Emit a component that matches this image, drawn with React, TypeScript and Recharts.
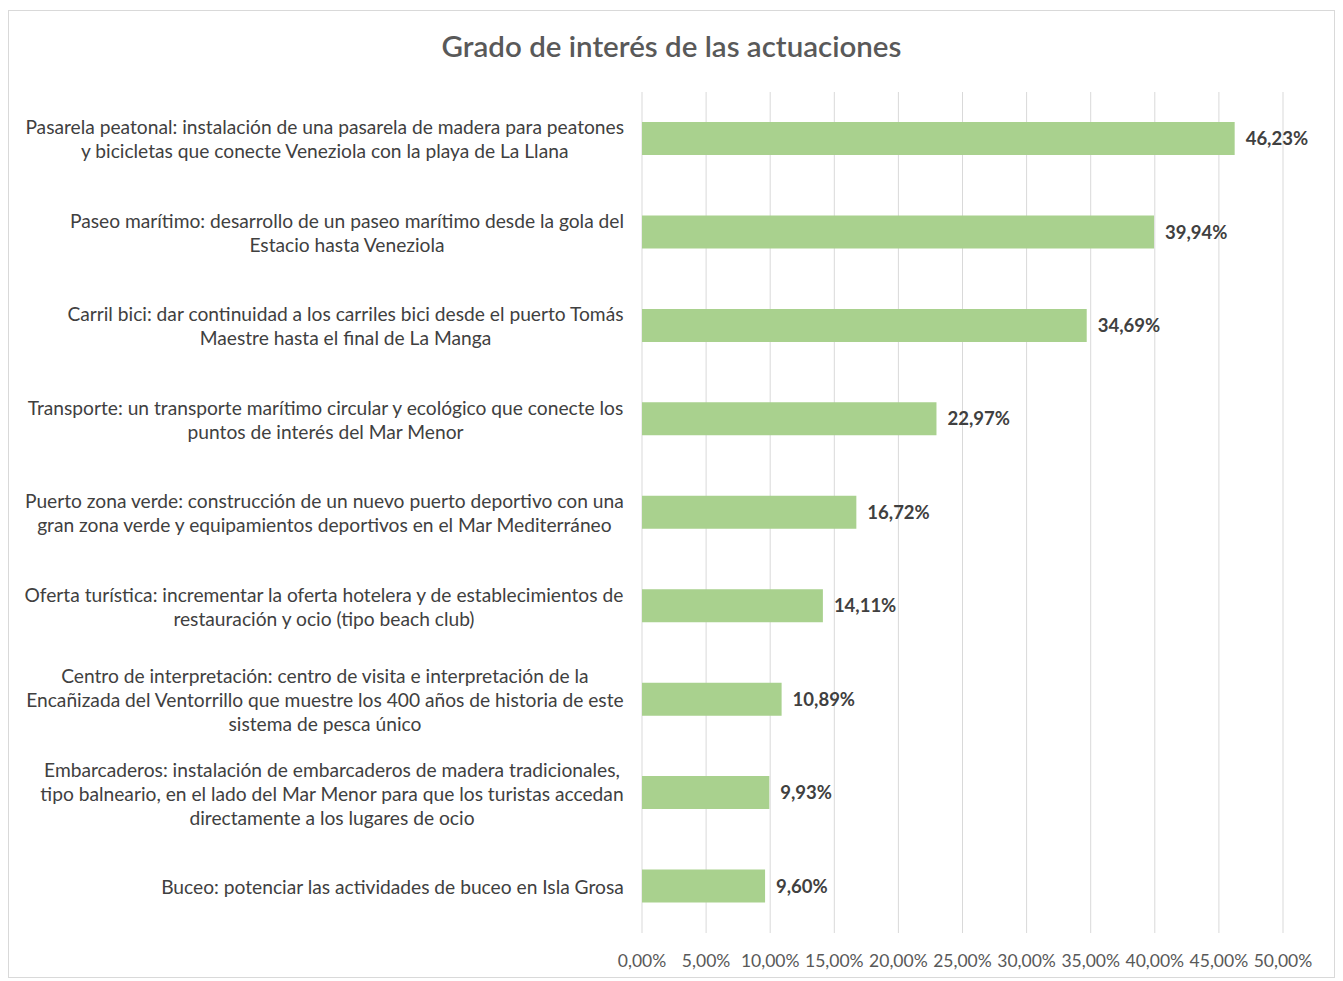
import { BarChart, Bar, XAxis, YAxis, CartesianGrid, LabelList } from "recharts";

const categories: string[][] = [
    ["Pasarela peatonal: instalación de una pasarela de madera para peatones", "y bicicletas que conecte Veneziola con la playa de La Llana"],
    ["Paseo marítimo: desarrollo de un paseo marítimo desde la gola del", "Estacio hasta Veneziola"],
    ["Carril bici: dar continuidad a los carriles bici desde el puerto Tomás", "Maestre hasta el final de La Manga"],
    ["Transporte: un transporte marítimo circular y ecológico que conecte los", "puntos de interés del Mar Menor"],
    ["Puerto zona verde: construcción de un nuevo puerto deportivo con una", "gran zona verde y equipamientos deportivos en el Mar Mediterráneo"],
    ["Oferta turística: incrementar la oferta hotelera y de establecimientos de", "restauración y ocio (tipo beach club)"],
    ["Centro de interpretación: centro de visita e interpretación de la", "Encañizada del Ventorrillo que muestre los 400 años de historia de este", "sistema de pesca único"],
    ["Embarcaderos: instalación de embarcaderos de madera tradicionales,", "tipo balneario, en el lado del Mar Menor para que los turistas accedan", "directamente a los lugares de ocio"],
    ["Buceo: potenciar las actividades de buceo en Isla Grosa"],
];

const interest = [46.23, 39.94, 34.69, 22.97, 16.72, 14.11, 10.89, 9.93, 9.6];

const xTicks = [0, 5, 10, 15, 20, 25, 30, 35, 40, 45, 50];

const data = categories.map((lines, i) => ({ name: String(i), value: interest[i] }));

const FONT = "Lato, 'Noto Sans', sans-serif";
const TEXT = "#404040";
const LABEL_SIZE = 19.2;
const LINE_H = 24;

const pct = (v: number) => `${v.toFixed(2).replace(".", ",")}%`;

let ctx: CanvasRenderingContext2D | null = null;
function textWidth(s: string) {
    if (!ctx) ctx = document.createElement("canvas").getContext("2d");
    if (!ctx) return s.length * 8;
    ctx.font = `${LABEL_SIZE}px ${FONT}`;
    return ctx.measureText(s).width;
}

function CategoryTick({ x, y, payload }: any) {
    const lines = categories[Number(payload.value)] ?? [];
    const w = Math.max(...lines.map(textWidth));
    const cx = x - 18 - w / 2;
    const startY = y + 1 - ((lines.length - 1) * LINE_H) / 2;
    return (
        <text x={cx} y={startY} textAnchor="middle" fill={TEXT} fontSize={LABEL_SIZE} fontFamily={FONT}>
            {lines.map((l, i) => (
                <tspan key={i} x={cx} y={startY + i * LINE_H} dy="0.35em">{l}</tspan>
            ))}
        </text>
    );
}

export default function App() {
    return (
        <div style={{ position: "relative", width: 1325, height: 966, border: "1px solid #d9d9d9", marginTop: 2, background: "#fff" }}>
            <div style={{
                position: "absolute", top: 17, left: 0, width: "100%", textAlign: "center",
                fontFamily: FONT, fontSize: 29.5, color: "#595959", fontWeight: 600,
            }}>
                Grado de interés de las actuaciones
            </div>
            <BarChart
                width={1325}
                height={966}
                data={data}
                layout="vertical"
                margin={{ top: 81, right: 51, bottom: 0, left: 0 }}
            >
                <CartesianGrid horizontal={false} stroke="#d9d9d9" />
                <XAxis
                    type="number"
                    domain={[0, 50]}
                    ticks={xTicks}
                    tickFormatter={pct}
                    axisLine={false}
                    tickLine={false}
                    height={44}
                    tickMargin={16}
                    interval={0}
                    tick={{ fontSize: 17.5, fill: "#595959", fontFamily: FONT }}
                />
                <YAxis
                    type="category"
                    dataKey="name"
                    width={633}
                    axisLine={false}
                    tickLine={false}
                    tickSize={0}
                    tickMargin={0}
                    interval={0}
                    tick={<CategoryTick />}
                />
                <Bar dataKey="value" fill="#a9d18e" barSize={33} isAnimationActive={false}>
                    <LabelList
                        dataKey="value"
                        position="right"
                        offset={11}
                        formatter={(v: any) => pct(Number(v))}
                        style={{ fontSize: 18.5, fontWeight: 700, fill: TEXT, fontFamily: FONT }}
                    />
                </Bar>
            </BarChart>
        </div>
    );
}
